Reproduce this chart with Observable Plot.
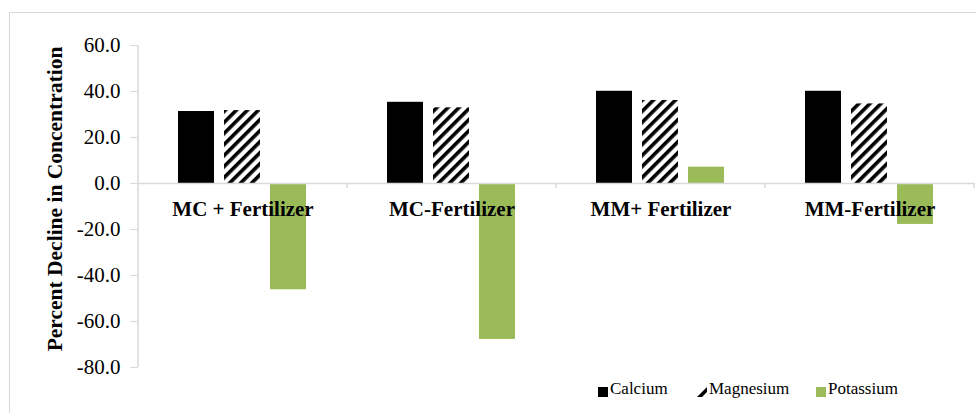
<!DOCTYPE html>
<html>
<head>
<meta charset="utf-8">
<script src="https://cdn.jsdelivr.net/npm/d3@7"></script>
<script src="https://cdn.jsdelivr.net/npm/@observablehq/plot@0.6"></script>
<style>
  html, body { margin: 0; padding: 0; background: #fff; overflow: hidden; }
  #wrap { position: relative; width: 976px; height: 413px; overflow: hidden; font-family: "Liberation Serif", "Times New Roman", serif; }
  #border { position: absolute; left: 9px; top: 12px; width: 1100px; height: 600px; border: 1px solid #d9d9d9; box-sizing: border-box; }
  #chart { position: absolute; left: 0; top: 0; }
  #legend { position: absolute; left: 0; top: 379px; width: 976px; height: 24px; }
  .item { position: absolute; top: 0; font-size: 17px; color: #000; line-height: 20px; white-space: nowrap; }
  .sw { position: absolute; top: 8px; width: 10px; height: 10px; }
</style>
</head>
<body>
<div id="wrap">
  <div id="border"></div>
  <div id="chart"></div>
  <div id="legend"></div>
</div>
<script>
const categories = ["MC + Fertilizer", "MC-Fertilizer", "MM+ Fertilizer", "MM-Fertilizer"];
const series = ["Calcium", "Magnesium", "Potassium"];
const calcium = [31.3, 35.3, 40.1, 40.1];
const magnesium = [31.7, 32.9, 36.1, 34.6];
const potassium = [-46.2, -67.8, 7.1, -17.8];
const yTicks = [-80, -60, -40, -20, 0, 20, 40, 60];
const yLabel = "Percent Decline in Concentration";
const colors = ["#000000", "url(#hatch)", "#9bbb59"];

const values = [calcium, magnesium, potassium];
const data = [];
categories.forEach((c, i) => series.forEach((s, j) => data.push({category: c, series: s, value: values[j][i]})));

const serif = "'Liberation Serif', 'Times New Roman', serif";

const chart = Plot.plot({
  width: 976,
  height: 413,
  marginLeft: 136,
  marginRight: 1,
  marginTop: 45,
  marginBottom: 46,
  style: {background: "transparent", fontFamily: serif},
  fx: {domain: categories, padding: 0, axis: null, label: null},
  x: {domain: series, paddingInner: 0.214, paddingOuter: 0.853, axis: null},
  y: {domain: [-80, 60], axis: null},
  color: {domain: series, range: colors},
  marks: [
    Plot.barY(data, {fx: "category", x: "series", y: "value", fill: "series"}),
    Plot.ruleY([0], {stroke: "#d9d9d9", strokeWidth: 1.5}),
    Plot.text(categories, {fx: d => d, y: 0, text: d => d, dy: 26, fontSize: 21, fontWeight: "bold", fontFamily: serif, fill: "#000"}),
    Plot.axisY({ticks: yTicks, tickFormat: d => d.toFixed(1), tickSize: 8, tickPadding: 10, stroke: "#d9d9d9", fill: "#000", fontSize: 21, fontFamily: serif, label: null})
  ]
});

// hatch pattern definition
const svg = d3.select(chart);
const defs = svg.insert("defs", ":first-child");
const pat = defs.append("pattern")
  .attr("id", "hatch").attr("patternUnits", "userSpaceOnUse")
  .attr("width", 7.8).attr("height", 7.8)
  .attr("patternTransform", "rotate(45)");
pat.append("rect").attr("width", 7.8).attr("height", 7.8).attr("fill", "#fff");
pat.append("rect").attr("width", 3.6).attr("height", 7.8).attr("fill", "#000");

// axis line and category boundary ticks from the scales
const fx = chart.scale("fx");
const y = chart.scale("y");
const x0 = fx.apply(categories[0]);
const g = svg.append("g").attr("stroke", "#d9d9d9").attr("stroke-width", 1.5);
g.append("line").attr("x1", x0).attr("x2", x0).attr("y1", y.apply(60)).attr("y2", y.apply(-80));
categories.forEach(c => {
  const xb = fx.apply(c) + fx.bandwidth;
  g.append("line").attr("x1", xb).attr("x2", xb).attr("y1", y.apply(0)).attr("y2", y.apply(0) + 5);
});

// y axis title
svg.append("text")
  .attr("transform", `translate(62,${(y.apply(60) + y.apply(-80)) / 2 - 7}) rotate(-90)`)
  .attr("text-anchor", "middle")
  .attr("font-family", serif).attr("font-size", 21.5).attr("font-weight", "bold")
  .attr("fill", "#000")
  .text(yLabel);

document.getElementById("chart").appendChild(chart);

// legend
const legend = document.getElementById("legend");
const legendX = [598, 697, 816];
series.forEach((s, i) => {
  const sw = document.createElementNS("http://www.w3.org/2000/svg", "svg");
  sw.setAttribute("class", "sw");
  sw.setAttribute("width", 10); sw.setAttribute("height", 10);
  sw.style.left = legendX[i] + "px";
  if (i === 1) {
    sw.innerHTML = '<polygon points="10,0 10,5 5,10 0,10" fill="#000"/>';
  } else {
    sw.innerHTML = `<rect width="10" height="10" fill="${colors[i]}"/>`;
  }
  legend.appendChild(sw);
  const t = document.createElement("div");
  t.className = "item";
  t.style.left = (legendX[i] + 12) + "px";
  t.textContent = s;
  legend.appendChild(t);
});
</script>
</body>
</html>
